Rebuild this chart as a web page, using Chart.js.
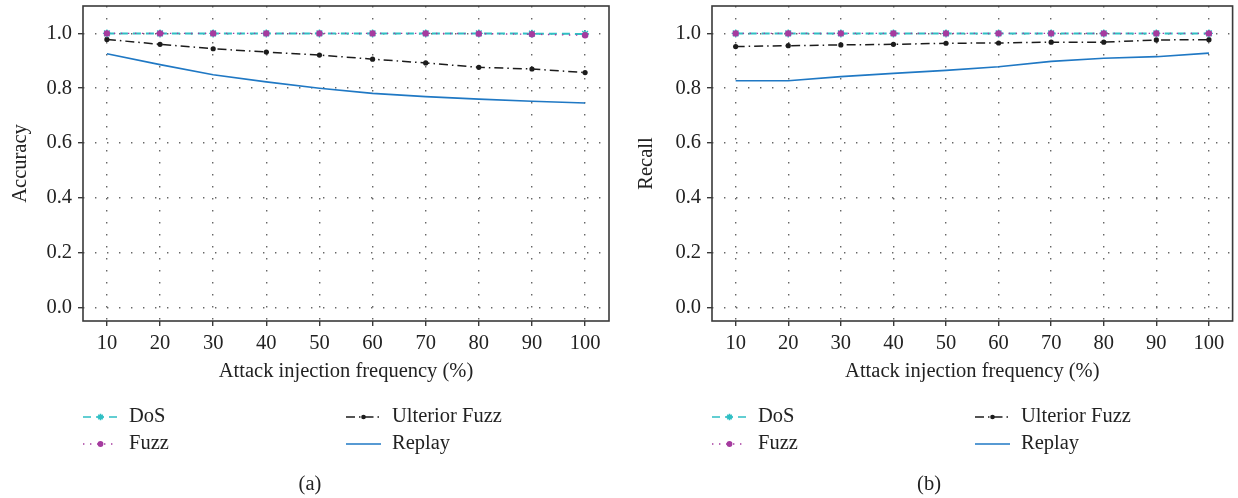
<!DOCTYPE html>
<html>
<head>
<meta charset="utf-8">
<script src="https://cdn.jsdelivr.net/npm/chart.js@4"></script>
<style>
  html, body { margin: 0; padding: 0; background: #fff; }
  #wrap { position: relative; width: 1238px; height: 498px; }
  canvas { position: absolute; top: 0; }
</style>
</head>
<body>
<div id="wrap">
  <canvas id="accChart" width="620" height="498" style="left:0"></canvas>
  <canvas id="recChart" width="618" height="498" style="left:620px"></canvas>
</div>
<script>
const xValues = [10, 20, 30, 40, 50, 60, 70, 80, 90, 100]
const xTicks = [10, 20, 30, 40, 50, 60, 70, 80, 90, 100]
const yTicks = [0, 0.2, 0.4, 0.6, 0.8, 1.0]

const accDos = [1, 1, 1, 1, 1, 1, 1, 1, 0.999, 0.998]
const accFuzz = [1, 1, 1, 1, 1, 1, 1, 0.999, 0.997, 0.993]
const accUlterior = [0.978, 0.96, 0.944, 0.932, 0.921, 0.906, 0.892, 0.876, 0.87, 0.857]
const accReplay = [0.926, 0.886, 0.849, 0.823, 0.8, 0.781, 0.769, 0.76, 0.752, 0.746]

const recDos = [1, 1, 1, 1, 1, 1, 1, 1, 1, 1]
const recFuzz = [1, 1, 1, 1, 1, 1, 1, 1, 1, 1]
const recUlterior = [0.952, 0.955, 0.958, 0.96, 0.964, 0.965, 0.968, 0.968, 0.976, 0.977]
const recReplay = [0.827, 0.827, 0.842, 0.854, 0.865, 0.878, 0.898, 0.909, 0.915, 0.928]

const seriesNames = ['DoS', 'Fuzz', 'Ulterior Fuzz', 'Replay']

const FONT = "'Liberation Serif', 'DejaVu Serif', serif"
const FSIZE = 20.5
const TEXT = '#222'

const pts = (vals) => vals.map((v, i) => ({ x: xValues[i], y: v }))

function makeDatasets(dos, fuzz, ult, rep) {
  return [
    {
      label: seriesNames[0], data: pts(dos), borderColor: '#2fbfc4', backgroundColor: '#2fbfc4',
      borderWidth: 2, borderDash: [8, 5], pointStyle: 'star', pointRadius: 4, pointBorderWidth: 1.4, order: 1,
    },
    {
      label: seriesNames[1], data: pts(fuzz), borderColor: '#a53b9f', backgroundColor: '#a53b9f',
      borderWidth: 1.4, borderDash: [1.4, 5.6], pointStyle: 'circle', pointRadius: 3.2, pointBorderWidth: 0, order: 0,
    },
    {
      label: seriesNames[2], data: pts(ult), borderColor: '#1c1c1c', backgroundColor: '#1c1c1c',
      borderWidth: 1.5, borderDash: [9, 4, 1.5, 4], pointStyle: 'circle', pointRadius: 2.6, pointBorderWidth: 0, order: 2,
    },
    {
      label: seriesNames[3], data: pts(rep), borderColor: '#1f78c4', backgroundColor: '#1f78c4',
      borderWidth: 1.6, borderDash: [], pointRadius: 0, order: 3,
    },
  ]
}

// box around plot area, legend in two columns and caption below
const framePlugin = {
  id: 'frame',
  afterDraw(chart, args, opts) {
    const { ctx, chartArea: a } = chart
    ctx.save()
    ctx.strokeStyle = '#3a3a3a'
    ctx.lineWidth = 1.6
    ctx.setLineDash([])
    ctx.strokeRect(a.left, a.top, a.right - a.left, a.bottom - a.top)

    ctx.font = FSIZE + 'px ' + FONT
    ctx.fillStyle = TEXT
    ctx.textBaseline = 'middle'
    const rows = [417, 444]
    chart.data.datasets.forEach((ds, i) => {
      const col = Math.floor(i / 2)
      const x = a.left + col * 263
      const y = rows[i % 2]
      ctx.save()
      ctx.strokeStyle = ds.borderColor
      ctx.lineWidth = Math.min(ds.borderWidth, 1.6)
      ctx.setLineDash(ds.borderDash || [])
      ctx.beginPath()
      ctx.moveTo(x, y)
      ctx.lineTo(x + 35, y)
      ctx.stroke()
      ctx.setLineDash([])
      if (ds.pointRadius > 0) {
        ctx.fillStyle = ds.backgroundColor
        ctx.strokeStyle = ds.borderColor
        if (ds.pointStyle === 'circle') {
          ctx.beginPath()
          ctx.arc(x + 17.5, y, ds.pointRadius * 0.9, 0, Math.PI * 2)
          ctx.fill()
        } else {
          Chart.helpers.drawPoint(ctx, {
            pointStyle: ds.pointStyle, radius: ds.pointRadius * 0.8, rotation: 0,
            borderWidth: ds.pointBorderWidth,
          }, x + 17.5, y)
        }
      }
      ctx.restore()
      ctx.fillText(ds.label, x + 46, y)
    })

    ctx.textAlign = 'center'
    ctx.fillText(opts.caption, chart.width / 2, 485)
    ctx.restore()
  },
}

function buildChart(canvas, datasets, yTitle, caption, yWidth, titlePad) {
  return new Chart(canvas, {
    type: 'line',
    data: { datasets },
    options: {
      responsive: false,
      animation: false,
      devicePixelRatio: 1,
      layout: { padding: { top: 6, right: canvas.width - yWidth - 526, bottom: 107, left: 0 } },
      plugins: {
        legend: { display: false },
        tooltip: { enabled: false },
        frame: { caption },
      },
      elements: { line: { tension: 0 } },
      scales: {
        x: {
          type: 'linear',
          min: 5.5,
          max: 104.5,
          afterBuildTicks: (s) => { s.ticks = xTicks.map((v) => ({ value: v })) },
          afterFit: (s) => { s.height = 70; s.paddingLeft = 0; s.paddingRight = 0 },
          ticks: { font: { family: FONT, size: FSIZE }, color: TEXT, padding: 5, maxRotation: 0 },
          grid: { color: '#666', lineWidth: 1.4, tickLength: 5, tickColor: '#3a3a3a', tickWidth: 1.4, tickBorderDash: [] },
          border: { display: false, dash: [1.4, 10.6] },
          title: {
            display: true, text: 'Attack injection frequency (%)',
            font: { family: FONT, size: FSIZE }, color: TEXT, padding: { top: 4, bottom: 7 },
          },
        },
        y: {
          min: -0.05,
          max: 1.1,
          afterBuildTicks: (s) => { s.ticks = yTicks.map((v) => ({ value: v })) },
          afterFit: (s) => { s.width = yWidth; s.paddingTop = 0; s.paddingBottom = 0 },
          ticks: {
            font: { family: FONT, size: FSIZE }, color: TEXT, padding: 6,
            callback: (v) => Number(v).toFixed(1),
          },
          grid: { color: '#666', lineWidth: 1.4, tickLength: 5, tickColor: '#3a3a3a', tickWidth: 1.4, tickBorderDash: [] },
          border: { display: false, dash: [1.4, 10.6] },
          title: {
            display: true, text: yTitle,
            font: { family: FONT, size: FSIZE }, color: TEXT, padding: { top: titlePad, bottom: 4 },
          },
        },
      },
    },
    plugins: [framePlugin],
  })
}

buildChart(document.getElementById('accChart'),
  makeDatasets(accDos, accFuzz, accUlterior, accReplay), 'Accuracy', '(a)', 83, 8)
buildChart(document.getElementById('recChart'),
  makeDatasets(recDos, recFuzz, recUlterior, recReplay), 'Recall', '(b)', 92, 14)
</script>
</body>
</html>
